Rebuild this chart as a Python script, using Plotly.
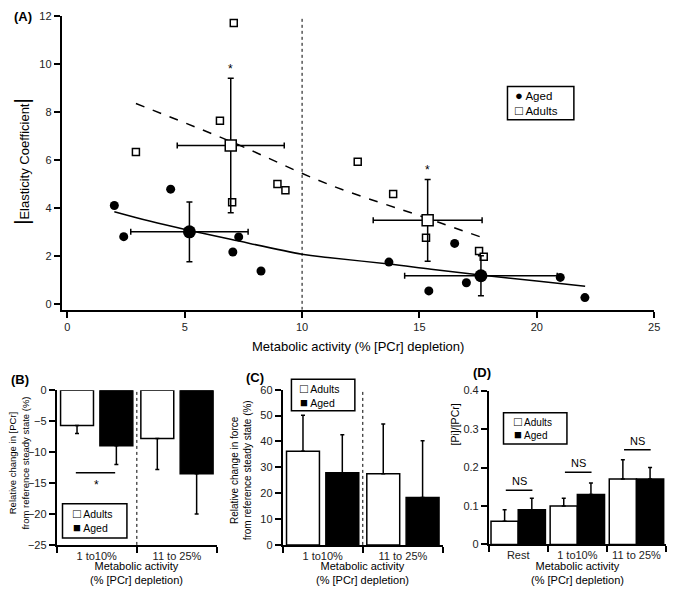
import plotly.graph_objects as go

W, H = 676, 595
OX, OY = 8, 8          # the page body adds an 8px margin
FONT = "Liberation Sans, Arial, sans-serif"

# ------------------------------------------------------
# data
# ------------------------------------------------------

# (A) individual subjects
aged_x = [2.0, 2.4, 4.4, 7.3, 7.05, 8.25, 13.7, 15.4, 16.5, 17.0, 21.0, 22.05]
aged_y = [4.1, 2.8, 4.78, 2.79, 2.16, 1.37, 1.74, 0.54, 2.52, 0.88, 1.1, 0.26]
adult_x = [2.92, 6.5, 7.09, 7.02, 8.95, 9.29, 12.37, 13.88, 15.28, 17.54, 17.74]
adult_y = [6.33, 7.63, 11.71, 4.23, 4.99, 4.73, 5.92, 4.58, 2.75, 2.2, 1.96]

# (A) group means +/- SD
aged_mx = [5.2, 17.62]
aged_my = [3.0, 1.17]
aged_sdx = [2.5, 3.25]
aged_sdy = [1.25, 0.83]
adult_mx = [6.96, 15.35]
adult_my = [6.6, 3.48]
adult_sdx = [2.28, 2.32]
adult_sdy = [2.8, 1.7]

# (A) fitted curves
aged_fit_x = [2.0, 3.5, 5.2, 7.0, 10.0, 11.1, 13.7, 15.5, 17.6, 20.0, 22.06]
aged_fit_y = [3.84, 3.45, 3.06, 2.68, 2.07, 1.93, 1.66, 1.44, 1.2, 0.95, 0.73]
adult_fit_x = [2.92, 7.0, 11.1, 15.35, 17.71]
adult_fit_y = [8.35, 6.75, 4.99, 3.56, 2.75]

star_x = [6.95, 15.35]
star_y = [9.92, 5.7]

# (B) change in [PCr]
cats_bc = ["1 to10%", "11 to 25%"]
pcr_adults = [-5.7, -7.8]
pcr_adults_err = [1.3, 5.0]
pcr_aged = [-9.0, -13.5]
pcr_aged_err = [3.0, 6.5]

# (C) change in force
force_adults = [36.2, 27.5]
force_adults_err = [13.9, 19.2]
force_aged = [27.9, 18.3]
force_aged_err = [14.7, 22.0]

# (D) Pi/PCr
cats_d = ["Rest", "1 to10%", "11 to 25%"]
pi_adults = [0.06, 0.10, 0.17]
pi_adults_err = [0.03, 0.02, 0.05]
pi_aged = [0.09, 0.13, 0.17]
pi_aged_err = [0.03, 0.03, 0.03]
ns_y = [0.141, 0.188, 0.246]


def px(x):
    return (x - OX) / (W - OX)


def py(y):
    return 1 - (y - OY) / (H - OY)


fig = go.Figure()

# ------------------------------------------------------
# panel A
# ------------------------------------------------------
fig.add_trace(go.Scatter(x=aged_fit_x, y=aged_fit_y, mode="lines", line=dict(color="black", width=1.5, shape="spline"),
                         showlegend=False, xaxis="x", yaxis="y"))
fig.add_trace(go.Scatter(x=adult_fit_x, y=adult_fit_y, mode="lines",
                         line=dict(color="black", width=1.5, dash="dash", shape="spline"),
                         showlegend=False, xaxis="x", yaxis="y"))
fig.add_trace(go.Scatter(x=aged_x, y=aged_y, mode="markers", name="Aged", showlegend=False,
                         marker=dict(symbol="circle", size=9, color="black"), xaxis="x", yaxis="y"))
fig.add_trace(go.Scatter(x=adult_x, y=adult_y, mode="markers", name="Adults", showlegend=False,
                         marker=dict(symbol="square", size=7, color="white", line=dict(color="black", width=1.5)),
                         xaxis="x", yaxis="y"))
fig.add_trace(go.Scatter(x=aged_mx, y=aged_my, mode="markers", showlegend=False,
                         marker=dict(symbol="circle", size=13, color="black"),
                         error_x=dict(type="data", array=aged_sdx, color="black", thickness=1.5, width=3),
                         error_y=dict(type="data", array=aged_sdy, color="black", thickness=1.5, width=3),
                         xaxis="x", yaxis="y"))
fig.add_trace(go.Scatter(x=adult_mx, y=adult_my, mode="markers", showlegend=False,
                         marker=dict(symbol="square", size=11, color="white", line=dict(color="black", width=1.5)),
                         error_x=dict(type="data", array=adult_sdx, color="black", thickness=1.5, width=3),
                         error_y=dict(type="data", array=adult_sdy, color="black", thickness=1.5, width=3),
                         xaxis="x", yaxis="y"))

# ------------------------------------------------------
# bar panels B, C, D
# ------------------------------------------------------
bar_line = dict(color="black", width=1.5)


def add_bars(cats, adults, adults_err, aged, aged_err, xa, ya, width, off_a, off_b, down=False):
    for name, vals, errs, col, off in [("Adults", adults, adults_err, "white", off_a),
                                       ("Aged", aged, aged_err, "black", off_b)]:
        zeros = [0] * len(errs)
        err = dict(type="data", symmetric=False, color="black", thickness=1.5, width=2,
                   array=zeros if down else errs, arrayminus=errs if down else zeros)
        fig.add_trace(go.Bar(x=cats, y=vals, name=name, marker=dict(color=col, line=bar_line), showlegend=False,
                             width=width, offset=off, error_y=err, xaxis=xa, yaxis=ya))


add_bars(cats_bc, pcr_adults, pcr_adults_err, pcr_aged, pcr_aged_err, "x2", "y2", 0.41, -0.45, 0.04, down=True)
add_bars(cats_bc, force_adults, force_adults_err, force_aged, force_aged_err, "x3", "y3", 0.41, -0.45, 0.04)
add_bars(cats_d, pi_adults, pi_adults_err, pi_aged, pi_aged_err, "x4", "y4", 0.46, -0.46, 0.0)

# ------------------------------------------------------
# axes
# ------------------------------------------------------
tickfont = dict(family=FONT, size=11, color="#222")
common = dict(showline=True, linecolor="black", linewidth=1.5, ticks="outside", ticklen=6, tickwidth=1.5,
              tickcolor="black", showgrid=False, zeroline=False, tickfont=tickfont)

fig.update_layout(
    xaxis=dict(domain=[px(62), px(660)], range=[-0.25, 25], tickvals=[0, 5, 10, 15, 20, 25], anchor="y", **common),
    yaxis=dict(domain=[py(310), py(10)], range=[-0.25, 12], tickvals=[0, 2, 4, 6, 8, 10, 12], anchor="x", **common),
    xaxis2=dict(domain=[px(57), px(219)], range=[-0.5, 1.5], type="category", tickson="boundaries", anchor="y2", **common),
    yaxis2=dict(domain=[py(550), py(392)], range=[-25, 0], dtick=5, anchor="x2", **common),
    xaxis3=dict(domain=[px(285), px(447)], range=[-0.5, 1.5], type="category", tickson="boundaries", anchor="y3", **common),
    yaxis3=dict(domain=[py(550), py(391.5)], range=[0, 60], dtick=10, anchor="x3", **common),
    xaxis4=dict(domain=[px(493), px(672)], range=[-0.5, 2.5], type="category", tickson="boundaries", anchor="y4", **common),
    yaxis4=dict(domain=[py(549.5), py(392.5)], range=[0, 0.4], dtick=0.1, anchor="x4", **common),
)

# dotted separators
fig.add_shape(type="line", xref="x", yref="y", x0=10, x1=10, y0=-0.25, y1=12, line=dict(color="black", width=1, dash="dot"))
fig.add_shape(type="line", xref="x2", yref="y2", x0=0.5, x1=0.5, y0=-25, y1=0, line=dict(color="black", width=1, dash="dot"))
fig.add_shape(type="line", xref="x3", yref="y3", x0=0.5, x1=0.5, y0=0, y1=60, line=dict(color="black", width=1, dash="dot"))

# significance marks
fig.add_shape(type="line", xref="x2", yref="y2", x0=-0.26, x1=0.23, y0=-13.35, y1=-13.35, line=dict(color="black", width=1.5))
fig.add_annotation(x=0, y=-14.8, xref="x2", yref="y2", text="*", showarrow=False, yshift=-3,
                   font=dict(family=FONT, size=12, color="black"))
for i, yv in enumerate(ns_y):
    fig.add_shape(type="line", xref="x4", yref="y4", x0=i - 0.21, x1=i + 0.24, y0=yv, y1=yv,
                  line=dict(color="black", width=1.5))
    fig.add_annotation(x=i + 0.02, y=yv, xref="x4", yref="y4", text="NS", showarrow=False, yanchor="bottom",
                       yshift=1, font=dict(family=FONT, size=11, color="black"))
for sx, sy in zip(star_x, star_y):
    fig.add_annotation(x=sx, y=sy, xref="x", yref="y", text="*", showarrow=False, yshift=-3,
                       font=dict(family=FONT, size=12, color="black"))


# ------------------------------------------------------
# titles and panel letters
# ------------------------------------------------------
def note(text, x, y, size=11, angle=0, bold=False, xanchor="center", align="center"):
    fig.add_annotation(x=px(x), y=py(y), xref="paper", yref="paper", text=f"<b>{text}</b>" if bold else text,
                       showarrow=False, textangle=angle, xanchor=xanchor, yanchor="middle", align=align,
                       font=dict(family=FONT, size=size, color="black"))


note("(A)", 23, 11, size=13, bold=True)
note("(B)", 20, 381, size=13, bold=True)
note("(C)", 257, 379, size=13, bold=True)
note("(D)", 486, 374, size=13, bold=True)

note("Metabolic activity (% [PCr] depletion)", 361, 347, size=13)
note("<span style='font-size:20px'>|</span>Elasticity Coefficient<span style='font-size:20px'>|</span>",
     22, 158, size=13, angle=-90)

note("Relative change in [PCr]<br>from reference steady state (%)", 19, 466, size=9.5, angle=-90)
note("Relative change in force<br>from reference steady state (%)", 244, 474, size=10, angle=-90)
note("[Pi]/[PCr]", 459, 427, size=10.5, angle=-90)
for cx in [138, 366, 582.5]:
    note("Metabolic activity<br>(% [PCr] depletion)", cx, 579, size=11)


# ------------------------------------------------------
# legends (boxed keys)
# ------------------------------------------------------
def key(box, left, rows, size=11, gsize=13):
    x0, y0, x1, y1 = box
    fig.add_shape(type="rect", xref="paper", yref="paper", x0=px(x0), x1=px(x1), y0=py(y1), y1=py(y0),
                  line=dict(color="black", width=1.5), fillcolor="white", layer="above")
    text = "<br>".join(f"<span style='font-size:{gsize}px'>{g}</span> {lab}" for g, lab in rows)
    note(text, left, (y0 + y1) / 2, size=size, xanchor="left", align="left")


key((512, 82, 579, 116), 518, [("●", "Aged"), ("□", "Adults")], size=11.5, gsize=13)
key((63, 508, 128, 543), 72, [("□", "Adults"), ("■", "Aged")], size=10.5)
key((294, 381, 358, 413), 301, [("□", "Adults"), ("■", "Aged")], size=10.5)
key((508, 415, 572, 447), 517, [("□", "Adults"), ("■", "Aged")], size=10)

fig.update_layout(
    width=W - OX, height=H - OY, margin=dict(l=0, r=0, t=0, b=0),
    plot_bgcolor="white", paper_bgcolor="white", showlegend=False,
    font=dict(family=FONT, size=11, color="black"),
)

fig.write_html("out.html")
